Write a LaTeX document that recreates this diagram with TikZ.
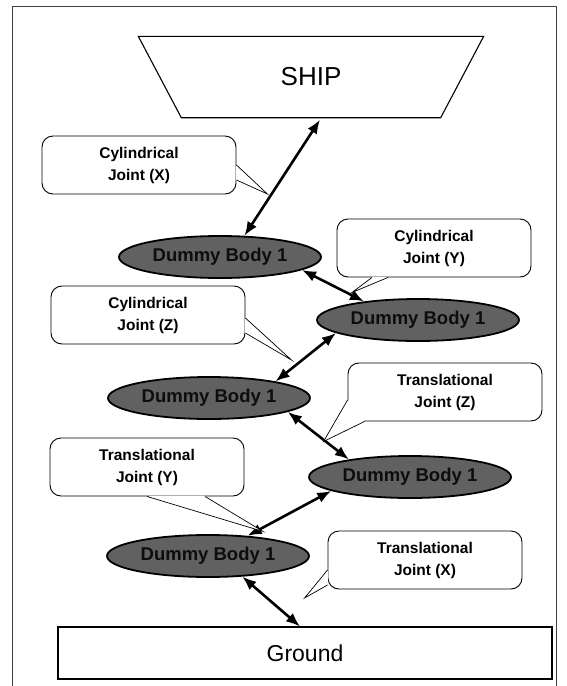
\documentclass[tikz,border=0pt]{standalone}
\usepackage{fontspec}
\setmainfont{Liberation Sans}
\usetikzlibrary{shapes.geometric,arrows.meta,calc}
\tikzset{
  frameline/.style={draw=black!75, line width=0.8pt},
  bodyline/.style={draw=black, line width=1.1pt},
  jointbox/.style={draw=black, line width=0.9pt, fill=white, rounded corners=11pt,
    minimum width=194pt, minimum height=58pt, align=center, inner sep=2pt,
    font=\fontsize{15.5}{22}\selectfont\bfseries},
  dummy/.style={ellipse, draw=black, line width=1.8pt, fill=black!62,
    minimum width=202pt, minimum height=42pt, inner sep=0pt, text=black!95,
    font=\fontsize{18.5}{20}\selectfont\bfseries},
  link/.style={{Latex[length=14pt,width=11pt]}-{Latex[length=14pt,width=11pt]},
    line width=2.6pt},
  tailline/.style={draw=black, line width=0.7pt},
}
\begin{document}
\begin{tikzpicture}[x=1pt,y=-1pt]
\useasboundingbox (0,0) rectangle (567,686);

% outer frame
\draw[frameline] (12,686) -- (12,6) -- (556,6) -- (556,686);

% ship (inverted trapezium) and ground
\node[minimum width=345pt, minimum height=81pt, inner sep=0pt,
      font=\fontsize{26}{30}\selectfont] (ship) at (311,77) {SHIP};
\draw[bodyline] (ship.north west) -- (ship.north east)
  -- ($(ship.south east)+(-43,0)$) -- ($(ship.south west)+(43,0)$) -- cycle;
\node[bodyline, minimum width=494pt, minimum height=52pt,
      font=\fontsize{23}{27}\selectfont] (ground) at (305,653) {Ground};

% dummy bodies
\node[dummy] (e1) at (220,257) {Dummy Body 1};
\node[dummy] (e2) at (418,320) {Dummy Body 1};
\node[dummy] (e3) at (209,398) {Dummy Body 1};
\node[dummy] (e4) at (410,477) {Dummy Body 1};
\node[dummy] (e5) at (208,556) {Dummy Body 1};

% joints between the bodies
\draw[link] ($(ship.south)+(9,2)$) -- (e1.41.6);
\draw[link] (e1.-9.1) -- (e2.161.4);
\draw[link] (e2.-171.8) -- (e3.14.6);
\draw[link] (e3.-10.3) -- (e4.164.3);
\draw[link] (e4.-170.9) -- (e5.27.8);
\draw[link] (e5.-31.9) -- ($(ground.north)+(-5,0)$);

% joint labels
\node[jointbox] (cx) at (139,165) {Cylindrical\\Joint (X)};
\fill[white] ($(cx.east)+(-0.6,0)$) -- ($(cx.east)+(31,29)$) -- ($(cx.east)+(-0.6,15)$) -- cycle;
\draw[tailline] ($(cx.east)+(0,0)$) -- ($(cx.east)+(31,29)$) -- ($(cx.east)+(0,15)$);

\node[jointbox] (cy) at (434,248) {Cylindrical\\Joint (Y)};
\fill[white] ($(cy.south)+(-62,-0.6)$) -- ($(cy.south)+(-82,15)$) -- ($(cy.south)+(-46,-0.6)$) -- cycle;
\draw[tailline] ($(cy.south)+(-62,0)$) -- ($(cy.south)+(-82,15)$) -- ($(cy.south)+(-46,0)$);

\node[jointbox] (cz) at (148,315) {Cylindrical\\Joint (Z)};
\fill[white] ($(cz.east)+(-0.6,3)$) -- ($(cz.east)+(46,45)$) -- ($(cz.east)+(-0.6,18)$) -- cycle;
\draw[tailline] ($(cz.east)+(0,3)$) -- ($(cz.east)+(46,45)$) -- ($(cz.east)+(0,18)$);

\node[jointbox] (tz) at (445,392) {Translational\\Joint (Z)};
\fill[white] ($(tz.west)+(0.6,8)$) -- ($(tz.south west)+(-24,20)$) -- ($(tz.south west)+(17,-0.6)$) -- cycle;
\draw[tailline] ($(tz.west)+(0,8)$) -- ($(tz.south west)+(-24,20)$) -- ($(tz.south west)+(17,0)$);

\node[jointbox] (ty) at (147,467) {Translational\\Joint (Y)};
\fill[white] ($(ty.south)+(0,-0.6)$) -- ($(ty.south)+(116,35)$) -- ($(ty.south)+(58,-0.6)$) -- cycle;
\draw[tailline] ($(ty.south)+(0,0)$) -- ($(ty.south)+(116,35)$) -- ($(ty.south)+(58,0)$);

\node[jointbox] (tx) at (425,560) {Translational\\Joint (X)};
\fill[white] ($(tx.west)+(0.6,10)$) -- ($(tx.west)+(-23,38)$) -- ($(tx.west)+(0.6,25)$) -- cycle;
\draw[tailline] ($(tx.west)+(0,10)$) -- ($(tx.west)+(-23,38)$) -- ($(tx.west)+(0,25)$);
\end{tikzpicture}
\end{document}
